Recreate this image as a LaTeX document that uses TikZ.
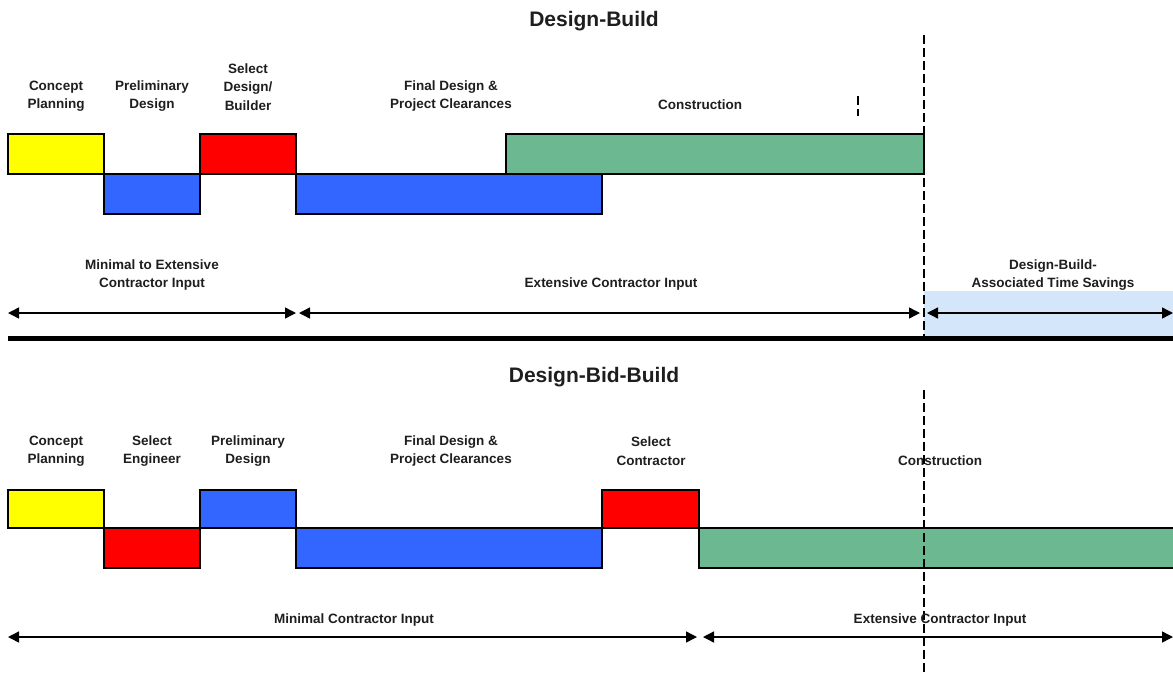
\documentclass[tikz,border=0pt]{standalone}
\usepackage{fontspec}
\setmainfont{Liberation Sans}
\usetikzlibrary{arrows.meta}
\definecolor{cyel}{RGB}{255,255,0}
\definecolor{cblue}{RGB}{51,102,255}
\definecolor{cred}{RGB}{255,0,0}
\definecolor{cgreen}{RGB}{108,184,144}
\definecolor{clight}{RGB}{212,230,250}
\definecolor{ctxt}{RGB}{30,30,30}
\tikzset{
  bar/.style={draw=black, line width=1.2pt},
  lbl/.style={font=\bfseries\fontsize{13.5}{18.5}\selectfont, align=center, inner sep=0pt, text=ctxt},
  ttl/.style={font=\bfseries\fontsize{21}{24}\selectfont, inner sep=0pt, text=ctxt},
  span/.style={line width=1.4pt, {Triangle[length=11pt,width=11pt]}-{Triangle[length=11pt,width=11pt]}},
  vdash/.style={line width=1.2pt, dash pattern=on 9pt off 4pt},
}
\begin{document}
\begin{tikzpicture}[x=1pt,y=-1pt]
\useasboundingbox (0,0) rectangle (1173,673);
% ---------- Design-Build ----------
\node[ttl] (t1) at (594,21) {Design-Build};
\fill[clight] (924,291) rectangle (1173,338);
\draw[bar, fill=cyel] (8,134) rectangle (104,174);
\draw[bar, fill=cblue] (104,174) rectangle (200,214);
\draw[bar, fill=cred] (200,134) rectangle (296,174);
\draw[bar, fill=cblue] (296,174) rectangle (602,214);
\draw[bar, fill=cgreen] (506,134) rectangle (924,174);
\node[lbl] (a1) at (56,96) {Concept\\Planning};
\node[lbl] (a2) at (152,96) {Preliminary\\Design};
\node[lbl] (a3) at (248,87) {Select\\Design/\\Builder};
\node[lbl] (a4) at (451,96) {Final Design \&\\Project Clearances};
\node[lbl] (a5) at (700,105) {Construction};
\coordinate (m1) at (858,96);
\coordinate (m2) at (858,116);
\draw[vdash] (m1) -- (m2);
\coordinate (d1t) at (924,35);
\coordinate (d1b) at (924,338);
\draw[vdash] (d1t) -- (d1b);
\node[lbl] (b1) at (152,275) {Minimal to Extensive\\Contractor Input};
\node[lbl] (b2) at (611,284) {Extensive Contractor Input};
\node[lbl] (b3) at (1053,275) {Design-Build-\\Associated Time Savings};
\coordinate (p0) at (8,313);
\coordinate (p1) at (296,313);
\coordinate (p2) at (299,313);
\coordinate (p3) at (920,313);
\coordinate (p4) at (927,313);
\coordinate (p5) at (1173,313);
\draw[span] (p0) -- (p1);
\draw[span] (p2) -- (p3);
\draw[span] (p4) -- (p5);
\coordinate (s0) at (8,338);
\coordinate (s1) at (1173,338);
\draw[line width=5pt] (s0) -- (s1);
% ---------- Design-Bid-Build ----------
\node[ttl] (t2) at (594,377) {Design-Bid-Build};
\draw[bar, fill=cyel] (8,490) rectangle (104,528);
\draw[bar, fill=cred] (104,528) rectangle (200,568);
\draw[bar, fill=cblue] (200,490) rectangle (296,528);
\draw[bar, fill=cblue] (296,528) rectangle (602,568);
\draw[bar, fill=cred] (602,490) rectangle (699,528);
\draw[bar, fill=cgreen] (699,528) rectangle (1180,568);
\node[lbl] (c1) at (56,451) {Concept\\Planning};
\node[lbl] (c2) at (152,451) {Select\\Engineer};
\node[lbl] (c3) at (248,451) {Preliminary\\Design};
\node[lbl] (c4) at (451,451) {Final Design \&\\Project Clearances};
\node[lbl] (c5) at (651,451) {Select\\Contractor};
\node[lbl] (c6) at (940,461) {Construction};
\coordinate (d2t) at (924,390);
\coordinate (d2b) at (924,673);
\draw[vdash] (d2t) -- (d2b);
\node[lbl] (e1) at (354,620) {Minimal Contractor Input};
\node[lbl] (e2) at (940,620) {Extensive Contractor Input};
\coordinate (q0) at (8,637);
\coordinate (q1) at (697,637);
\coordinate (q2) at (703,637);
\coordinate (q3) at (1173,637);
\draw[span] (q0) -- (q1);
\draw[span] (q2) -- (q3);
\end{tikzpicture}
\end{document}
